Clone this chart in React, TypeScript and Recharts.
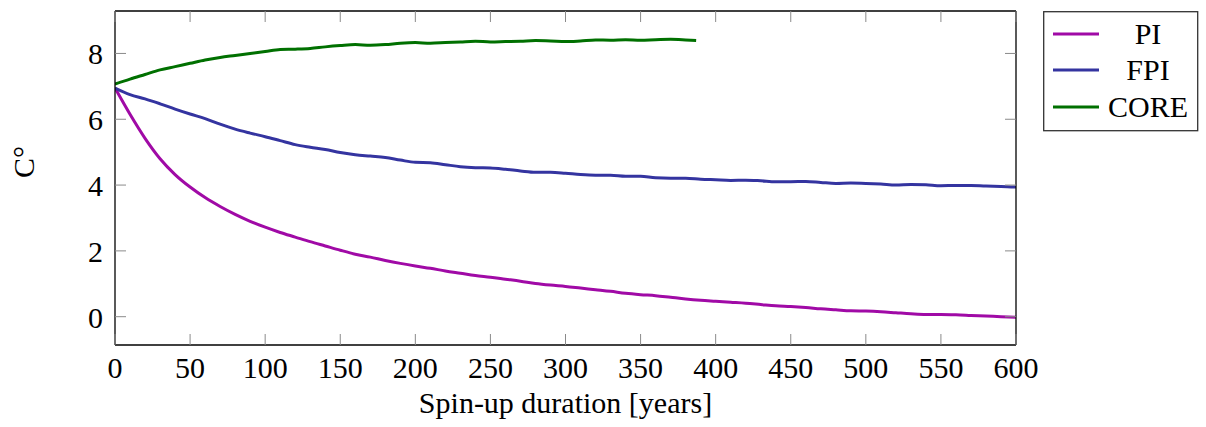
import React from 'react';
import { LineChart, Line, XAxis, YAxis } from 'recharts';

const years = [
  0, 10, 20, 30, 40, 50, 60, 70, 80, 90, 100, 110, 120, 130, 140, 150, 160, 170, 180, 190,
  200, 210, 220, 230, 240, 250, 260, 270, 280, 290, 300, 310, 320, 330, 340, 350, 360, 370, 380, 390,
  400, 410, 420, 430, 440, 450, 460, 470, 480, 490, 500, 510, 520, 530, 540, 550, 560, 570, 580, 590, 600,
];

const piValues = [
  6.95, 6.15, 5.42, 4.8, 4.32, 3.94, 3.62, 3.35, 3.11, 2.9, 2.72, 2.56, 2.42, 2.28, 2.15, 2.02, 1.9, 1.81, 1.71, 1.62,
  1.54, 1.47, 1.39, 1.32, 1.25, 1.2, 1.14, 1.08, 1.01, 0.96, 0.92, 0.87, 0.82, 0.77, 0.71, 0.67, 0.64, 0.59, 0.54, 0.5,
  0.47, 0.44, 0.41, 0.37, 0.33, 0.31, 0.28, 0.24, 0.21, 0.18, 0.17, 0.15, 0.12, 0.09, 0.07, 0.07, 0.06, 0.04, 0.02, 0.0, -0.02,
];

const fpiValues = [
  6.95, 6.75, 6.62, 6.47, 6.31, 6.16, 6.02, 5.85, 5.7, 5.58, 5.47, 5.35, 5.23, 5.15, 5.08, 4.99, 4.92, 4.88, 4.84, 4.76,
  4.69, 4.68, 4.62, 4.56, 4.53, 4.52, 4.48, 4.43, 4.39, 4.39, 4.36, 4.32, 4.3, 4.3, 4.27, 4.27, 4.22, 4.21, 4.21, 4.18,
  4.16, 4.14, 4.15, 4.13, 4.1, 4.1, 4.11, 4.08, 4.05, 4.06, 4.05, 4.03, 4.0, 4.02, 4.01, 3.98, 3.99, 3.99, 3.97, 3.96, 3.94,
];

const coreYears = [
  0, 10, 20, 30, 40, 50, 60, 70, 80, 90, 100, 110, 120, 130, 140, 150, 160, 170, 180, 190,
  200, 210, 220, 230, 240, 250, 260, 270, 280, 290, 300, 310, 320, 330, 340, 350, 360, 370, 380, 387,
];

const coreValues = [
  7.07, 7.22, 7.36, 7.5, 7.6, 7.7, 7.8, 7.88, 7.94, 8.0, 8.06, 8.12, 8.13, 8.15, 8.2, 8.24, 8.27, 8.25, 8.27, 8.31,
  8.33, 8.31, 8.33, 8.35, 8.37, 8.35, 8.36, 8.37, 8.39, 8.38, 8.36, 8.38, 8.41, 8.4, 8.42, 8.4, 8.42, 8.43, 8.41, 8.39,
];

const xTicks = [0, 50, 100, 150, 200, 250, 300, 350, 400, 450, 500, 550, 600];
const yTicks = [0, 2, 4, 6, 8];

const seriesNames = ['PI', 'FPI', 'CORE'];
const seriesColors = ['#a00aa6', '#3434a0', '#007000'];

const piData = years.map((y, i) => ({ year: y, value: piValues[i] }));
const fpiData = years.map((y, i) => ({ year: y, value: fpiValues[i] }));
const coreData = coreYears.map((y, i) => ({ year: y, value: coreValues[i] }));
const seriesData = [piData, fpiData, coreData];

const FONT = '"Liberation Serif", "Times New Roman", serif';
const FS = 30;
const TICK_LEN = 11;
const TICK_COLOR = '#8a8a8a';
const LINE_W = 3;

const BottomTick = (props: any) => {
  const { x, y, payload } = props;
  return (
    <g>
      <line x1={x} y1={y} x2={x} y2={y - TICK_LEN} stroke={TICK_COLOR} strokeWidth={1} />
      <text x={x} y={y + 33} textAnchor="middle" fontFamily={FONT} fontSize={FS} fill="#000">
        {payload.value}
      </text>
    </g>
  );
};

const TopTick = (props: any) => {
  const { x, y } = props;
  return <line x1={x} y1={y} x2={x} y2={y + TICK_LEN} stroke={TICK_COLOR} strokeWidth={1} />;
};

const LeftTick = (props: any) => {
  const { x, y, payload } = props;
  return (
    <g>
      <line x1={x} y1={y} x2={x + TICK_LEN} y2={y} stroke={TICK_COLOR} strokeWidth={1} />
      <text x={x - 12} y={y + 11} textAnchor="end" fontFamily={FONT} fontSize={FS} fill="#000">
        {payload.value}
      </text>
    </g>
  );
};

const RightTick = (props: any) => {
  const { x, y } = props;
  return <line x1={x} y1={y} x2={x - TICK_LEN} y2={y} stroke={TICK_COLOR} strokeWidth={1} />;
};

const LegendBox = () => {
  const rows = [23, 59, 96];
  return (
    <svg
      width={156}
      height={121}
      style={{ position: 'absolute', left: 1043, top: 11, display: 'block' }}
    >
      <rect x={0.7} y={0.7} width={154} height={119} fill="#fff" stroke="#333" strokeWidth={1.3} />
      {seriesNames.map((name, i) => (
        <g key={name}>
          <line x1={10} x2={56} y1={rows[i]} y2={rows[i]} stroke={seriesColors[i]} strokeWidth={LINE_W} />
          <text x={105} y={rows[i] + 10} textAnchor="middle" fontFamily={FONT} fontSize={FS} fill="#000">
            {name}
          </text>
        </g>
      ))}
    </svg>
  );
};

export default function App() {
  return (
    <div style={{ position: 'absolute', left: 0, top: 0, width: 1206, height: 427, background: '#fff' }}>
      <LineChart width={1206} height={427} margin={{ top: 10, right: 189, bottom: 0, left: 0 }}>
        <XAxis
          xAxisId="bottom"
          dataKey="year"
          type="number"
          domain={[0, 600]}
          allowDataOverflow
          ticks={xTicks}
          orientation="bottom"
          height={82}
          tickSize={0}
          tickMargin={0}
          tickLine={false}
          tick={<BottomTick />}
          axisLine={{ stroke: '#000', strokeWidth: 1.3 }}
          interval={0}
          label={{
            value: 'Spin-up duration [years]',
            position: 'insideBottom',
            offset: 14,
            fontFamily: FONT,
            fontSize: FS,
            fill: '#000',
          }}
        />
        <XAxis
          xAxisId="top"
          dataKey="year"
          type="number"
          domain={[0, 600]}
          allowDataOverflow
          ticks={xTicks}
          orientation="top"
          height={1}
          tickSize={0}
          tickMargin={0}
          tickLine={false}
          tick={<TopTick />}
          axisLine={{ stroke: '#000', strokeWidth: 1.3 }}
          interval={0}
        />
        <YAxis
          yAxisId="left"
          type="number"
          domain={[-0.86, 9.29]}
          allowDataOverflow
          ticks={yTicks}
          orientation="left"
          width={115}
          tickSize={0}
          tickMargin={0}
          tickLine={false}
          tick={<LeftTick />}
          axisLine={{ stroke: '#000', strokeWidth: 1.3 }}
          interval={0}
          label={{
            value: 'C°',
            angle: -90,
            position: 'insideLeft',
            offset: 23,
            fontFamily: FONT,
            fontSize: FS,
            fill: '#000',
          }}
        />
        <YAxis
          yAxisId="right"
          type="number"
          domain={[-0.86, 9.29]}
          allowDataOverflow
          ticks={yTicks}
          orientation="right"
          width={1}
          tickSize={0}
          tickMargin={0}
          tickLine={false}
          tick={<RightTick />}
          axisLine={{ stroke: '#000', strokeWidth: 1.3 }}
          interval={0}
        />
        {seriesData.map((d, i) => (
          <Line
            key={seriesNames[i]}
            type="monotone"
            xAxisId="bottom"
            yAxisId="left"
            data={d}
            dataKey="value"
            name={seriesNames[i]}
            stroke={seriesColors[i]}
            strokeWidth={LINE_W}
            dot={false}
            isAnimationActive={false}
          />
        ))}
        <Line
          xAxisId="top"
          yAxisId="right"
          data={coreData}
          dataKey="value"
          stroke="none"
          strokeWidth={0}
          dot={false}
          activeDot={false}
          legendType="none"
          isAnimationActive={false}
        />
      </LineChart>
      <LegendBox />
    </div>
  );
}
